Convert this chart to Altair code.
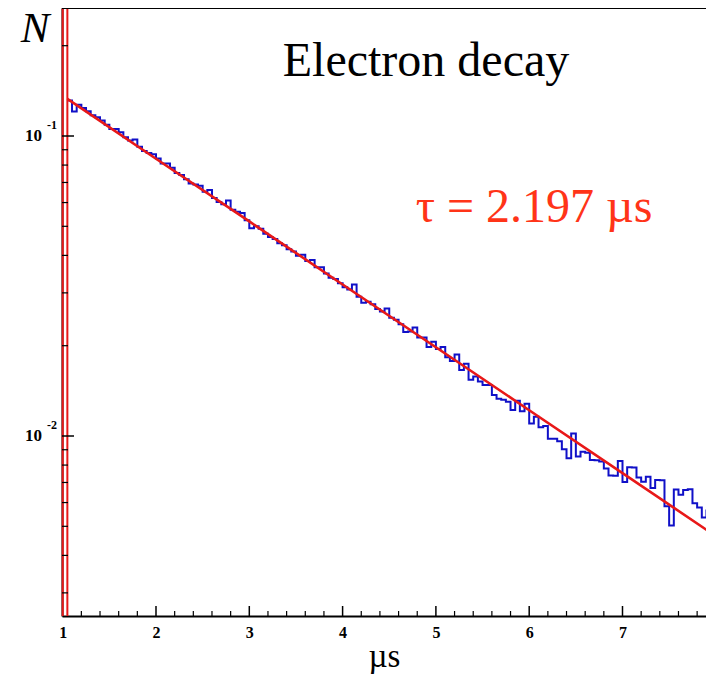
import altair as alt
import pandas as pd

# ---- data ----
bin_start = 1.05
bin_width = 0.05
blue_values = [
    0.1313, 0.1206, 0.1270, 0.1240, 0.1210, 0.1173, 0.1154, 0.1126, 0.1090, 0.1056,
    0.1055, 0.1029, 0.0990, 0.0966, 0.0973, 0.0921, 0.0892, 0.0877, 0.0870, 0.0842,
    0.0810, 0.0809, 0.0784, 0.0753, 0.0741, 0.0718, 0.0695, 0.0689, 0.0683, 0.0652,
    0.0661, 0.0621, 0.0602, 0.0592, 0.0609, 0.0568, 0.0559, 0.0554, 0.0524, 0.0493,
    0.0500, 0.0491, 0.0472, 0.0461, 0.0454, 0.0439, 0.0432, 0.0419, 0.0412, 0.0399,
    0.0402, 0.0383, 0.0386, 0.0365, 0.0365, 0.0348, 0.0337, 0.0334, 0.0323, 0.0313,
    0.0308, 0.0320, 0.0291, 0.0278, 0.0280, 0.0275, 0.0265, 0.0260, 0.0266, 0.0248,
    0.0244, 0.0236, 0.0222, 0.0223, 0.0230, 0.0213, 0.0213, 0.0198, 0.0206, 0.0195,
    0.0198, 0.0183, 0.0178, 0.0187, 0.0166, 0.0174, 0.0154, 0.0158, 0.0152, 0.0148,
    0.0148, 0.0137, 0.0133, 0.0132, 0.0130, 0.0122, 0.0131, 0.0121, 0.0128, 0.0110,
    0.0116, 0.0107, 0.0108, 0.0098, 0.0098, 0.0096, 0.00904, 0.00843, 0.0102, 0.00854,
    0.00886, 0.00879, 0.00832, 0.00831, 0.00823, 0.00779, 0.00738, 0.00737, 0.00826, 0.00702,
    0.00787, 0.00786, 0.00727, 0.00704, 0.00731, 0.00671, 0.00713, 0.00712, 0.00583, 0.00503,
    0.00663, 0.00637, 0.00661, 0.00665, 0.00597, 0.00578, 0.00535, 0.00564, 0.00563,
]
fit_x = [1.05, 2, 3, 4, 5, 6, 7, 8]
fit_y = [0.1330, 0.0840, 0.0519, 0.0320, 0.01976, 0.01219, 0.00752, 0.00464]
first_bin_edges = [1.0, 1.05]

x_labels = [1, 2, 3, 4, 5, 6, 7]
x_major = [2, 3, 4, 5, 6, 7]
x_minor = [1.2, 1.4, 1.6, 1.8, 2.2, 2.4, 2.6, 2.8, 3.2, 3.4, 3.6, 3.8,
           4.2, 4.4, 4.6, 4.8, 5.2, 5.4, 5.6, 5.8, 6.2, 6.4, 6.6, 6.8,
           7.2, 7.4, 7.6, 7.8]
y_major = [0.1, 0.01]
y_major_exp = ["-1", "-2"]
y_minor = [0.003, 0.004, 0.005, 0.006, 0.007, 0.008, 0.009,
           0.02, 0.03, 0.04, 0.05, 0.06, 0.07, 0.08, 0.09, 0.2]

W, H = 644, 608
SERIF = "Liberation Serif"
BLUE = "#1010c8"
RED = "#e81818"
TXTRED = "#ff3418"

# ---- tables ----
n = len(blue_values)
blue_df = pd.DataFrame({
    "x": [bin_start + i * bin_width for i in range(n + 1)],
    "y": blue_values + [blue_values[-1]],
})
fit_df = pd.DataFrame({"x": fit_x, "y": fit_y})
edge_df = pd.DataFrame({"x": first_bin_edges})
xmaj_df = pd.DataFrame({"x": x_major})
xmin_df = pd.DataFrame({"x": x_minor})
ymaj_df = pd.DataFrame({"y": y_major, "e": y_major_exp, "b": ["10", "10"]})
ymin_df = pd.DataFrame({"y": y_minor})

xscale = alt.Scale(domain=[0.9925, 7.895], nice=False, zero=False)
yscale = alt.Scale(type="log", domain=[0.002512, 0.2671], nice=False)

xaxis = alt.Axis(values=x_labels, labelFont=SERIF, labelFontWeight="bold",
                 labelFontSize=16, labelColor="black", labelPadding=8,
                 labelFlush=False, labelOverlap=False, ticks=False, grid=False,
                 domainColor="black", domainWidth=2, format="d",
                 title="µs", titleFont=SERIF, titleFontSize=33,
                 titleFontWeight="normal", titleColor="black", titlePadding=0)
yaxis = alt.Axis(labels=False, ticks=False, grid=False, title=None,
                 domainColor="black", domainWidth=2)


def X(f):
    return alt.X(f, scale=xscale, axis=xaxis)


def Y(f):
    return alt.Y(f, scale=yscale, axis=yaxis)


blue = alt.Chart(blue_df).mark_line(
    interpolate="step-after", color=BLUE, strokeWidth=2, clip=True
).encode(x=X("x:Q"), y=Y("y:Q"))

fit = alt.Chart(fit_df).mark_line(color=RED, strokeWidth=2.6, clip=True).encode(
    x=X("x:Q"), y=Y("y:Q"))

edges = alt.Chart(edge_df).mark_rule(color=RED, strokeWidth=2).encode(
    x=X("x:Q"), y=alt.value(0), y2=alt.value(H))

top = alt.Chart(pd.DataFrame({"a": [0]})).mark_rule(color="black", strokeWidth=2).encode(
    x=alt.value(0), x2=alt.value(W), y=alt.value(0))

xt_major = alt.Chart(xmaj_df).mark_rule(color="black", strokeWidth=1.5).encode(
    x=X("x:Q"), y=alt.value(H - 10), y2=alt.value(H))
xt_minor = alt.Chart(xmin_df).mark_rule(color="black", strokeWidth=1.2).encode(
    x=X("x:Q"), y=alt.value(H - 5), y2=alt.value(H))
yt_major = alt.Chart(ymaj_df).mark_rule(color="black", strokeWidth=1.5).encode(
    y=Y("y:Q"), x=alt.value(0), x2=alt.value(12))
yt_minor = alt.Chart(ymin_df).mark_rule(color="black", strokeWidth=1.2).encode(
    y=Y("y:Q"), x=alt.value(0), x2=alt.value(6))

ylab = alt.Chart(ymaj_df).mark_text(
    font=SERIF, fontWeight="bold", fontSize=17, align="right", baseline="middle", color="black"
).encode(y=Y("y:Q"), x=alt.value(-20), text="b:N")
yexp = alt.Chart(ymaj_df).mark_text(
    font=SERIF, fontWeight="bold", fontSize=12, align="left", baseline="middle",
    dy=-11, color="black"
).encode(y=Y("y:Q"), x=alt.value(-15), text="e:N")


def label(txt, x, y, size, color="black", style="normal"):
    return alt.Chart(pd.DataFrame({"t": [txt]})).mark_text(
        font=SERIF, fontSize=size, fontStyle=style, color=color,
        align="center", baseline="alphabetic"
    ).encode(x=alt.value(x), y=alt.value(y), text="t:N")


t_N = label("N", -27, 34, 43, style="italic")
t_title = label("Electron decay", 364, 68, 48)
t_tau = label("τ = 2.197 µs", 472, 214, 48, color=TXTRED)

chart = alt.layer(
    blue, fit, edges, top, xt_major, xt_minor, yt_major, yt_minor,
    ylab, yexp, t_N, t_title, t_tau
).properties(
    width=W, height=H,
    autosize=alt.AutoSizeParams(type="none"),
    padding={"left": 54, "top": 0, "right": 0, "bottom": 61},
).configure_view(stroke=None).configure(background="white")

chart.save("out.html", embed_options={"renderer": "svg", "actions": False})
